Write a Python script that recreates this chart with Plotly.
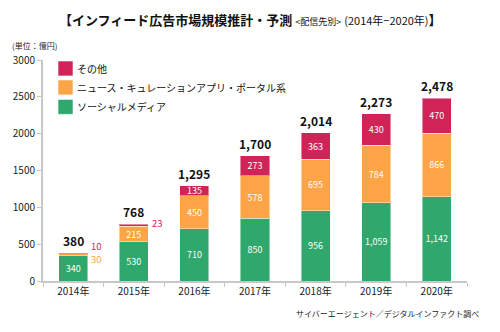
import plotly.graph_objects as go

# Data (unit: 億円)
years = ["2014年", "2015年", "2016年", "2017年", "2018年", "2019年", "2020年"]
social = [340, 530, 710, 850, 956, 1059, 1142]
news = [30, 215, 450, 578, 695, 784, 866]
other = [10, 23, 135, 273, 363, 430, 470]
totals = [380, 768, 1295, 1700, 2014, 2273, 2478]

series_names = ["ソーシャルメディア", "ニュース・キュレーションアプリ・ポータル系", "その他"]
colors = ["#2ea86d", "#fca446", "#d02458"]

FONT = "Noto Sans CJK JP, Noto Sans, sans-serif"

# plot area in pixels (for placing the hand-drawn legend and notes)
L, R, T, B = 43, 467, 60, 281.5
W, H = 500, 332


def px(x):
    return (x - L) / (R - L)


def py(y):
    return (B - y) / (B - T)


def fmt(v):
    return f"{v:,}"


# small segments get their label outside the bar instead of inside
inside_min = 60

fig = go.Figure()
for name, vals, col in zip(series_names, [social, news, other], colors):
    fig.add_trace(go.Bar(
        x=years, y=vals, name=name,
        marker=dict(color=col, line=dict(color="rgba(255,255,255,0.45)", width=1)),
        width=0.48,
        text=[fmt(v) if v >= inside_min else "" for v in vals],
        textposition="inside",
        insidetextanchor="middle",
        textfont=dict(color="white", size=9, family=FONT),
        hoverinfo="skip",
    ))

annotations = []
# totals above each stack
for yr, tot, s, n, o in zip(years, totals, social, news, other):
    annotations.append(dict(
        x=yr, y=s + n + o, xref="x", yref="y", text=f"<b>{fmt(tot)}</b>",
        showarrow=False, yanchor="bottom", yshift=2,
        font=dict(size=12, color="#111", family=FONT)))

# outside labels for thin segments
for i, (yr, s, n, o) in enumerate(zip(years, social, news, other)):
    stacked_small = n < inside_min
    if n < inside_min:
        annotations.append(dict(
            x=yr, y=s + n / 2, xref="x", yref="y", text=fmt(n), showarrow=False,
            xanchor="left", yanchor="middle", xshift=16, yshift=-4,
            font=dict(size=9.5, color=colors[1], family=FONT)))
    if o < inside_min:
        annotations.append(dict(
            x=yr, y=s + n + o / 2, xref="x", yref="y", text=fmt(o), showarrow=False,
            xanchor="left", yanchor="middle", xshift=16,
            yshift=7 if stacked_small else 2,
            font=dict(size=9.5, color=colors[2], family=FONT)))

# title
annotations.append(dict(
    x=px(250), y=py(19), xref="paper", yref="paper", showarrow=False,
    xanchor="center", yanchor="middle",
    text=("<b>【インフィード広告市場規模推計・予測</b> "
          "<span style='font-size:9px'>&lt;配信先別&gt;</span> "
          "<span style='font-size:11px'>(2014年−2020年)</span><b>】</b>"),
    font=dict(size=13, color="#111", family=FONT)))

# unit note
annotations.append(dict(
    x=px(10), y=py(45), xref="paper", yref="paper", showarrow=False,
    xanchor="left", yanchor="middle", text="(単位：億円)",
    font=dict(size=8, color="#222", family=FONT)))

# source note
annotations.append(dict(
    x=px(481), y=py(314), xref="paper", yref="paper", showarrow=False,
    xanchor="right", yanchor="middle", text="サイバーエージェント／デジタルインファクト調べ",
    font=dict(size=8, color="#222", family=FONT)))

# legend drawn as swatches + labels (top to bottom: その他, ニュース…, ソーシャル…)
shapes = []
legend_rows = [(colors[2], series_names[2], 61),
               (colors[1], series_names[1], 80),
               (colors[0], series_names[0], 99.5)]
for col, name, top in legend_rows:
    shapes.append(dict(type="rect", xref="paper", yref="paper",
                       x0=px(58), x1=px(73), y0=py(top + 15), y1=py(top),
                       fillcolor=col, line=dict(color="rgba(255,255,255,0.6)", width=1)))
    annotations.append(dict(
        x=px(75), y=py(top + 7.5), xref="paper", yref="paper", showarrow=False,
        xanchor="left", yanchor="middle", text=name,
        font=dict(size=10, color="#111", family=FONT)))

fig.update_layout(
    barmode="stack",
    width=W, height=H,
    margin=dict(l=L, r=W - R, t=T, b=H - B, pad=0),
    paper_bgcolor="white", plot_bgcolor="white",
    showlegend=False,
    annotations=annotations,
    shapes=shapes,
    uniformtext=dict(minsize=8, mode="show"),
    font=dict(family=FONT, color="#222"),
    xaxis=dict(
        type="category", range=[-0.5, 6.5],
        showline=True, linecolor="#c8c8c8", linewidth=2,
        ticks="outside", tickson="boundaries", ticklen=4, tickcolor="#c8c8c8",
        tickfont=dict(size=10, color="#222", family=FONT),
        showgrid=False, zeroline=False,
    ),
    yaxis=dict(
        range=[0, 3000], tickvals=[0, 500, 1000, 1500, 2000, 2500, 3000],
        showline=True, linecolor="#c8c8c8", linewidth=2,
        ticks="outside", ticklen=4, tickcolor="#c8c8c8",
        tickfont=dict(size=10, color="#222", family=FONT),
        showgrid=False, zeroline=False,
    ),
)

fig.write_html("out.html")
